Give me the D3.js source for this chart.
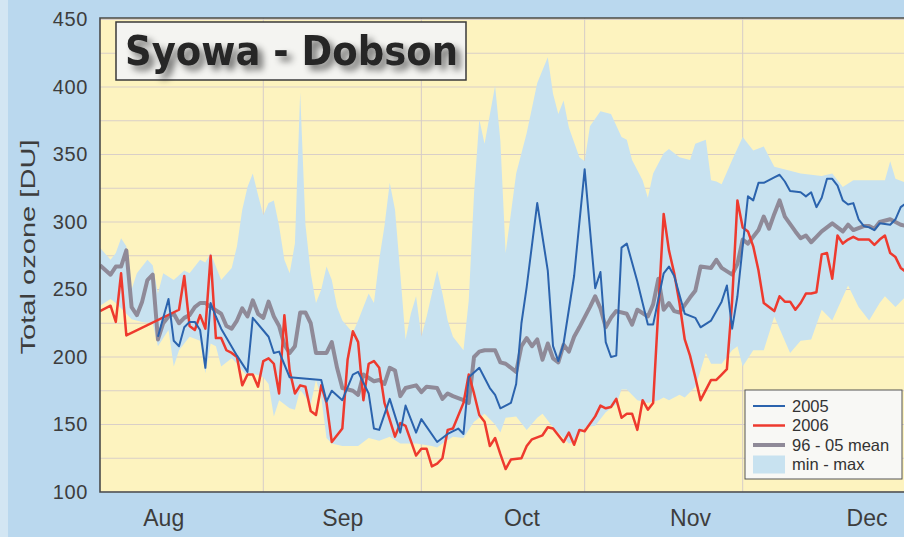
<!DOCTYPE html>
<html>
<head>
<meta charset="utf-8">
<script src="https://cdn.jsdelivr.net/npm/d3@7/dist/d3.min.js"></script>
<style>
  html, body { margin: 0; padding: 0; background: #bad8ee; }
  svg { display: block; font-family: "Liberation Sans", Arial, sans-serif; }
</style>
</head>
<body>
<svg width="904" height="537"></svg>
<script>
// days counted from 1 Aug (0) to the end of December
const days2005 = [11,13,14,15,16,17,18,19,20,21,22,23,26,28,29,32,33,34,36,42,43,44,46,48,49,51,52,53,55,57,58,60,61,64,66,68,69,70,72,74,75,76,78,79,80,81,83,85,86,87,88,90,92,94,95,96,97,98,99,100,102,103,104,105,107,108,109,111,113,114,116,118,119,120,121,123,124,125,126,128,129,130,131,133,134,135,136,137,138,139,140,141,142,143,144,145,146,147,148,150,151,152,153];
const ozone2005 = [215,243,212,208,222,226,226,220,192,240,230,221,201,189,229,215,203,204,185,183,167,175,168,187,189,173,147,146,169,144,164,144,154,137,143,147,143,185,192,177,172,162,166,180,225,252,314,264,208,197,210,260,339,251,263,211,200,201,281,284,256,240,224,224,262,267,260,232,229,222,227,241,253,221,245,319,316,329,329,333,335,330,323,322,319,322,311,318,332,332,327,316,313,314,302,297,296,294,299,298,302,311,314];

const days2006 = [0,2,3,4,5,15,16,17,18,19,20,21,22,23,24,25,26,27,28,29,30,31,32,33,34,35,36,37,38,39,40,41,42,43,44,46,47,48,49,50,51,52,53,54,56,57,58,60,61,62,63,64,65,66,67,69,70,71,72,73,74,75,76,77,78,80,81,82,84,85,86,87,88,89,90,91,92,94,95,96,97,98,99,100,101,102,103,104,105,107,108,109,110,111,112,113,114,116,117,118,119,120,121,122,123,124,125,126,127,128,129,130,131,132,133,134,135,136,137,138,139,140,141,142,143,144,146,147,148,149,150,151,152,153];
const ozone2006 = [234,238,226,262,216,235,260,223,220,231,221,275,214,214,205,203,200,179,187,187,178,197,199,195,173,231,190,173,179,178,160,157,179,166,137,147,198,219,211,168,195,197,192,166,141,151,149,127,132,132,119,121,125,146,147,166,187,173,157,152,134,140,128,117,124,125,134,139,142,148,147,142,137,144,135,146,145,156,164,162,163,169,155,158,158,146,168,161,166,306,279,262,240,213,201,185,168,183,183,187,191,242,316,296,293,282,264,240,237,234,245,241,241,235,240,247,247,248,276,277,258,290,284,287,289,287,287,283,287,290,277,274,266,263];

const daysMean = [0,2,3,4,5,6,7,8,9,10,11,12,13,14,15,16,17,18,19,20,21,23,24,25,26,27,28,29,30,31,32,33,34,35,36,37,38,39,40,41,43,44,45,46,48,49,50,52,53,54,55,56,57,58,60,61,62,64,65,66,67,69,70,71,72,73,75,76,77,79,80,81,82,83,84,85,86,87,88,89,90,91,93,94,95,96,97,98,100,101,102,104,105,106,107,108,109,110,112,113,114,116,117,118,120,121,122,123,125,126,127,128,129,130,132,133,134,135,136,137,138,139,141,142,143,145,146,147,148,150,151,152,153];
const ozoneMean = [268,261,267,267,279,237,231,241,257,261,213,225,230,232,225,229,231,237,240,240,237,232,223,221,227,236,230,242,232,229,241,230,223,209,203,208,233,233,225,203,203,211,192,177,175,172,187,182,183,180,192,190,171,177,179,174,178,177,169,173,171,168,166,200,204,205,205,196,195,189,208,214,208,213,198,210,199,196,209,204,215,222,237,245,236,222,229,234,232,224,235,230,239,258,235,240,234,233,244,249,267,266,272,266,261,269,287,284,294,304,295,306,316,304,293,288,290,285,289,293,296,299,293,298,294,297,297,295,300,302,300,298,297];

const daysMax = [0,2,3,4,5,6,7,9,10,11,12,14,16,17,19,20,21,22,23,25,26,27,28,29,30,31,32,33,34,35,36,37,38,39,40,41,42,43,44,45,46,48,49,51,52,53,54,55,56,57,58,59,60,61,62,63,64,65,66,67,69,70,71,72,73,75,76,77,79,81,83,85,86,87,88,89,91,92,93,95,97,99,100,101,103,104,105,107,108,110,112,113,115,116,117,118,120,122,124,126,128,131,133,137,139,141,143,146,149,150,151,153];
const ozoneMax = [281,272,277,288,282,250,262,272,268,247,262,257,264,262,272,270,277,267,257,266,282,309,326,336,320,305,314,316,297,272,262,284,396,298,262,240,250,267,257,237,227,218,227,247,240,272,297,329,309,262,213,232,245,215,230,247,264,247,227,215,205,242,321,376,358,401,360,277,336,366,403,422,395,380,390,370,348,345,371,382,380,363,361,346,331,318,336,351,354,348,346,358,361,331,330,328,346,363,353,356,341,338,336,334,336,326,331,331,331,345,332,329];

const daysMin = [0,2,3,5,6,8,10,11,13,14,15,17,19,20,21,22,23,25,26,27,28,29,31,32,33,34,36,37,38,40,41,42,43,44,46,49,51,53,55,57,60,63,64,65,67,69,71,73,75,76,77,79,81,83,84,86,89,90,92,94,96,98,99,100,102,104,106,107,108,110,111,113,114,115,116,118,120,121,122,124,126,128,131,133,135,137,139,142,144,146,148,149,151,153];
const ozoneMin = [238,243,240,232,228,226,225,208,220,193,205,215,212,188,210,208,193,199,195,190,186,188,185,180,156,168,162,161,176,165,183,170,140,136,134,134,140,138,141,136,136,134,133,136,141,140,152,158,150,144,155,156,146,155,158,148,136,137,148,149,159,165,176,176,168,166,168,170,168,172,170,178,190,203,195,195,205,208,193,205,205,230,203,212,213,235,227,253,237,227,240,245,237,245];

const yTicks = [100,150,200,250,300,350,400,450];
const yGrid = d3.range(100, 451, 25);
const monthStarts = [31,61,92,122];
const monthLabelDays = [12,46,80,112,145.5];
const monthNames = ['Aug','Sep','Oct','Nov','Dec'];

const legendItems = [
	{label: '2005', color: '#2b63ad', width: 2},
	{label: '2006', color: '#ee3a2e', width: 2.5},
	{label: '96 - 05 mean', color: '#8f8a98', width: 4},
	{label: 'min - max', color: '#c8e2f0', band: true}
];

function whenDocumentLoaded(action) {
	if (document.readyState === "loading") {
		document.addEventListener("DOMContentLoaded", action);
	} else {
		action();
	}
}

function pairs(days, vals) {
	return days.map((d, i) => [d, vals[i]]);
}

function makeChart() {
	const svg = d3.select('svg');
	const left = 100, top = 18, bottom = 492, right = 906;

	const x = d3.scaleLinear().domain([0, 153]).range([left, right]);
	const y = d3.scaleLinear().domain([100, 450]).range([bottom, 19.5]);

	const defs = svg.append('defs');
	defs.append('clipPath').attr('id', 'plot')
		.append('rect').attr('x', left).attr('y', top)
		.attr('width', right - left).attr('height', bottom - top);
	const shadow = defs.append('filter').attr('id', 'shadow')
		.attr('x', '-10%').attr('y', '-20%').attr('width', '130%').attr('height', '160%');
	shadow.append('feGaussianBlur').attr('in', 'SourceAlpha').attr('stdDeviation', 3.5);
	shadow.append('feOffset').attr('dx', 5).attr('dy', 5).attr('result', 'blur');
	shadow.append('feComponentTransfer').append('feFuncA').attr('type', 'linear').attr('slope', 0.55);
	const merge = shadow.append('feMerge');
	merge.append('feMergeNode');
	merge.append('feMergeNode').attr('in', 'SourceGraphic');

	// scan background
	svg.append('rect').attr('width', 904).attr('height', 537).attr('fill', '#bad8ee');
	svg.append('rect').attr('width', 8).attr('height', 537).attr('fill', '#d3e6f3');

	svg.append('rect')
		.attr('x', left).attr('y', top)
		.attr('width', right - left).attr('height', bottom - top)
		.attr('fill', '#fdf3bf');

	const g = svg.append('g').attr('clip-path', 'url(#plot)');

	g.selectAll('.hgrid').data(yGrid)
	  .enter().append('line')
		.attr('class', 'hgrid')
		.attr('x1', left).attr('x2', right)
		.attr('y1', d => y(d)).attr('y2', d => y(d))
		.attr('stroke', '#d9cfc8').attr('stroke-width', 1);

	g.selectAll('.vgrid').data(monthStarts)
	  .enter().append('line')
		.attr('class', 'vgrid')
		.attr('x1', d => x(d)).attr('x2', d => x(d))
		.attr('y1', top).attr('y2', bottom)
		.attr('stroke', '#d6ccc8').attr('stroke-width', 1);

	const line = d3.line().x(d => x(d[0])).y(d => y(d[1]));

	const band = pairs(daysMax, ozoneMax).concat(pairs(daysMin, ozoneMin).reverse());
	g.append('path')
		.attr('d', line(band) + 'Z')
		.attr('fill', '#c8e2f0');

	const series = [
		{data: pairs(daysMean, ozoneMean), item: legendItems[2]},
		{data: pairs(days2006, ozone2006), item: legendItems[1]},
		{data: pairs(days2005, ozone2005), item: legendItems[0]}
	];
	series.forEach(s => {
		g.append('path')
			.attr('d', line(s.data))
			.attr('fill', 'none')
			.attr('stroke', s.item.color)
			.attr('stroke-width', s.item.width)
			.attr('stroke-linejoin', 'round');
	});

	// frame: left, top, bottom
	svg.append('path')
		.attr('d', `M${right},${top}H${left}V${bottom}H${right}`)
		.attr('fill', 'none').attr('stroke', '#4a4a4a').attr('stroke-width', 1.6);

	const yAxis = svg.append('g')
		.attr('transform', `translate(${left},0)`)
		.call(d3.axisLeft(y).tickValues(yTicks).tickSize(0).tickPadding(12));
	yAxis.select('.domain').remove();
	yAxis.selectAll('text')
		.attr('fill', '#3d3d3d').attr('font-size', 20).attr('letter-spacing', 0.6)
		.attr('font-family', '"Liberation Sans", Arial, sans-serif');

	const xAxis = svg.append('g')
		.attr('transform', `translate(0,${bottom})`)
		.call(d3.axisBottom(x).tickValues(monthLabelDays)
			.tickFormat((d, i) => monthNames[i]).tickSize(0).tickPadding(18));
	xAxis.select('.domain').remove();
	xAxis.selectAll('text')
		.attr('fill', '#3d3d3d').attr('font-size', 23)
		.attr('font-family', '"Liberation Sans", Arial, sans-serif');

	svg.append('text')
		.attr('transform', 'translate(35,247) rotate(-90)')
		.attr('text-anchor', 'middle')
		.attr('font-size', 21)
		.attr('fill', '#3d3d3d')
		.attr('textLength', 215).attr('lengthAdjust', 'spacingAndGlyphs')
		.text('Total ozone [DU]');

	// title box
	svg.append('rect')
		.attr('x', 116).attr('y', 22).attr('width', 350).attr('height', 58)
		.attr('fill', '#f4f4f1').attr('stroke', '#3a3a3a').attr('stroke-width', 1.5);
	svg.append('text')
		.attr('x', 125).attr('y', 65)
		.attr('font-family', '"DejaVu Sans", Verdana, sans-serif')
		.attr('font-weight', 'bold').attr('font-size', 41)
		.attr('textLength', 333).attr('lengthAdjust', 'spacingAndGlyphs')
		.attr('fill', '#262626')
		.attr('filter', 'url(#shadow)')
		.text('Syowa - Dobson');

	// legend
	const lg = svg.append('g').attr('transform', 'translate(745,390)');
	lg.append('rect')
		.attr('width', 157).attr('height', 89)
		.attr('fill', '#f8f8f5').attr('stroke', '#555').attr('stroke-width', 1);
	const row = lg.selectAll('.row').data(legendItems)
	  .enter().append('g')
		.attr('class', 'row')
		.attr('transform', (d, i) => `translate(0,${16 + i * 19.5})`);
	row.filter(d => !d.band).append('line')
		.attr('x1', 8).attr('x2', 40)
		.attr('stroke', d => d.color).attr('stroke-width', d => d.width);
	row.filter(d => d.band).append('rect')
		.attr('x', 8).attr('y', -9).attr('width', 32).attr('height', 18)
		.attr('fill', d => d.color);
	row.append('text')
		.attr('x', 47).attr('dy', '0.36em')
		.attr('font-size', 16.5).attr('fill', '#333')
		.text(d => d.label);
}

whenDocumentLoaded(() => {
	makeChart();
});
</script>
</body>
</html>
